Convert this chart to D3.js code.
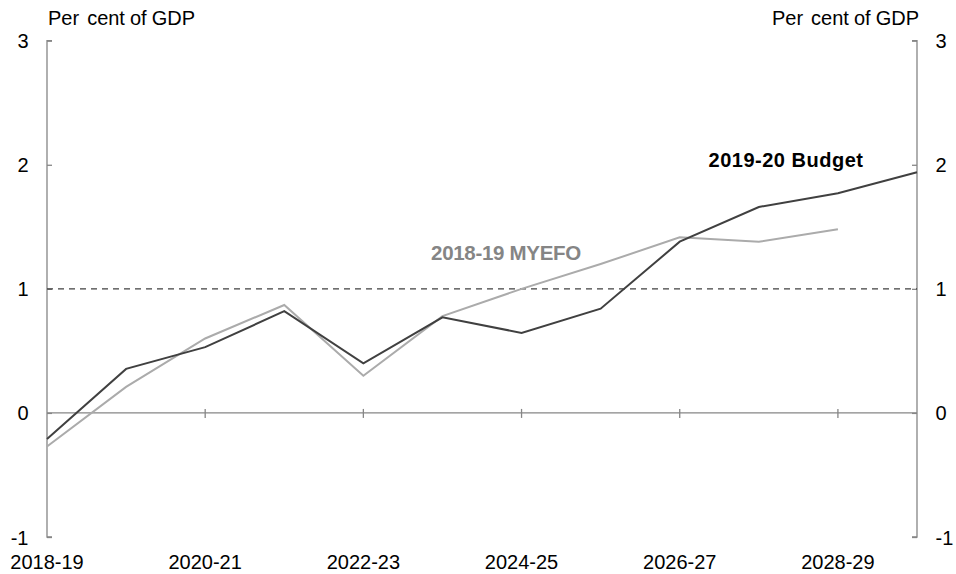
<!DOCTYPE html>
<html>
<head>
<meta charset="utf-8">
<script src="https://cdn.jsdelivr.net/npm/d3@7"></script>
<style>
  body { margin: 0; background: #fff; }
  text { font-family: Arial, "Liberation Sans", sans-serif; }
</style>
</head>
<body>
<div id="graphique"></div>
<script>
// années (exercices budgétaires)
const years = ["2018-19", "2019-20", "2020-21", "2021-22", "2022-23", "2023-24",
  "2024-25", "2025-26", "2026-27", "2027-28", "2028-29", "2029-30"];
const xLabels = ["2018-19", "2020-21", "2022-23", "2024-25", "2026-27", "2028-29"];

// séries en % du PIB
const budget = [-0.21, 0.355, 0.53, 0.82, 0.40, 0.77, 0.645, 0.84, 1.38, 1.66, 1.77, 1.94];
const myefo = [-0.27, 0.21, 0.60, 0.87, 0.30, 0.78, 1.0, 1.2, 1.415, 1.38, 1.48];

const yTicks = [-1, 0, 1, 2, 3];
const refLine = 1;

const width = 956, height = 574;
const margeG = 47, margeD = 917, margeH = 40.7, margeB = 537;

let svg = d3.select("#graphique").append("svg")
  .attr("width", width)
  .attr("height", height);

let x = d3.scalePoint().domain(years).range([margeG, margeD]);
let y = d3.scaleLinear().domain([-1, 3]).range([margeB, margeH]);

const axisColor = "#868686";

// axe gauche
let axeG = svg.append("g").attr("transform", "translate(" + margeG + ",0)")
  .call(d3.axisRight(y).tickValues(yTicks).tickSize(5).tickFormat(""));
axeG.selectAll("line, path").attr("stroke", axisColor).attr("stroke-width", 1.3);
axeG.select("path").attr("d", "M5," + y(3) + "H0V" + y(-1) + "H5");

// axe droit
let axeD = svg.append("g").attr("transform", "translate(" + margeD + ",0)")
  .call(d3.axisLeft(y).tickValues(yTicks).tickSize(5).tickFormat(""));
axeD.selectAll("line, path").attr("stroke", axisColor).attr("stroke-width", 1.3);
axeD.select("path").attr("d", "M-5," + y(3) + "H0V" + y(-1) + "H-5");

// libellés des ticks
svg.selectAll(".lblG").data(yTicks).enter().append("text")
  .attr("x", 28.5).attr("y", d => y(d) + 7.5)
  .attr("text-anchor", "end").attr("font-size", 20).attr("fill", "#000")
  .text(d => d);
svg.selectAll(".lblD").data(yTicks).enter().append("text")
  .attr("x", 935.5).attr("y", d => y(d) + 7.5)
  .attr("text-anchor", "start").attr("font-size", 20).attr("fill", "#000")
  .text(d => d);

// ligne zéro avec ticks
svg.append("line")
  .attr("x1", margeG).attr("x2", margeD)
  .attr("y1", y(0)).attr("y2", y(0))
  .attr("stroke", axisColor).attr("stroke-width", 1.3);
svg.selectAll(".tickX").data(xLabels.slice(1)).enter().append("line")
  .attr("x1", d => x(d)).attr("x2", d => x(d))
  .attr("y1", y(0) - 4).attr("y2", y(0) + 5)
  .attr("stroke", axisColor).attr("stroke-width", 1.3);

svg.selectAll(".lblX").data(xLabels).enter().append("text")
  .attr("x", d => x(d)).attr("y", 569)
  .attr("text-anchor", "middle").attr("font-size", 20).attr("fill", "#000")
  .text(d => d);

// ligne pointillée à 1
svg.append("line")
  .attr("x1", margeG).attr("x2", margeD)
  .attr("y1", y(refLine)).attr("y2", y(refLine))
  .attr("stroke", "#404040").attr("stroke-width", 1.4)
  .attr("stroke-dasharray", "6,5");

// titres d'unités
function titreUnite(xPos, ancre) {
  let t = svg.append("text").attr("x", xPos).attr("y", 25)
    .attr("text-anchor", ancre)
    .attr("font-size", 20).attr("fill", "#000").attr("word-spacing", "-0.5");
  t.append("tspan").text("Per");
  t.append("tspan").attr("dx", 8).text("cent of GDP");
}
titreUnite(48, "start");
titreUnite(919, "end");

// lignes
let line = d3.line().x((d, i) => x(years[i])).y(d => y(d));

svg.append("path").datum(myefo)
  .attr("d", line).attr("fill", "none")
  .attr("stroke", "#ababab").attr("stroke-width", 2);

svg.append("path").datum(budget)
  .attr("d", line).attr("fill", "none")
  .attr("stroke", "#404040").attr("stroke-width", 2);

// étiquettes des séries
svg.append("text").attr("x", 506).attr("y", 260)
  .attr("text-anchor", "middle").attr("font-size", 20.5).attr("font-weight", "bold")
  .attr("fill", "#858585").attr("letter-spacing", "-0.3")
  .text("2018-19 MYEFO");
svg.append("text").attr("x", 786).attr("y", 167)
  .attr("text-anchor", "middle").attr("font-size", 20).attr("font-weight", "bold")
  .attr("fill", "#000").attr("letter-spacing", "0.5")
  .text("2019-20 Budget");
</script>
</body>
</html>
